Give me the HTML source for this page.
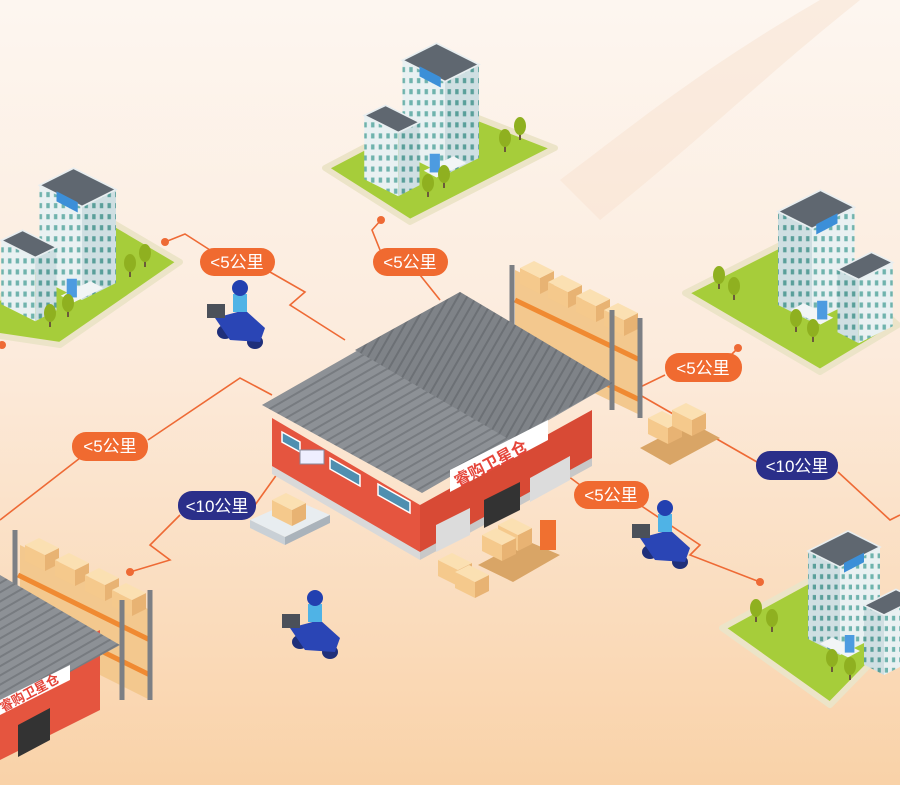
<!DOCTYPE html>
<html><head><meta charset="utf-8"><style>
html,body{margin:0;padding:0;width:900px;height:785px;overflow:hidden}
svg{display:block}
.lbl{font-family:"Liberation Sans","Noto Sans CJK SC",sans-serif;font-size:17px;fill:#fff}
</style></head><body>
<svg width="900" height="785" viewBox="0 0 900 785" xmlns="http://www.w3.org/2000/svg">
<defs>
<linearGradient id="bg" x1="0" y1="0" x2="0" y2="1">
<stop offset="0" stop-color="#fdf6f0"/><stop offset="0.45" stop-color="#fcebdc"/><stop offset="1" stop-color="#f9d2a8"/>
</linearGradient>
<pattern id="win" width="9" height="13" patternUnits="userSpaceOnUse"><rect width="9" height="13" fill="#e9f1f2"/><rect x="3" y="3" width="4" height="6" fill="#6fb3ad"/></pattern>
<pattern id="win2" width="9" height="13" patternUnits="userSpaceOnUse"><rect width="9" height="13" fill="#cfdfe2"/><rect x="3" y="3" width="4" height="6" fill="#5a9f9a"/></pattern>
<pattern id="roofp" width="8" height="8" patternUnits="userSpaceOnUse" patternTransform="rotate(-30)"><rect width="8" height="8" fill="#8d9196"/><rect width="8" height="2" fill="#777b80"/></pattern>
<pattern id="roofq" width="8" height="8" patternUnits="userSpaceOnUse" patternTransform="rotate(30)"><rect width="8" height="8" fill="#7f8388"/><rect width="2" height="8" fill="#6c7075"/></pattern>
<g id="hotel">
<polygon points="-50,-25 0,0 0,-110 -50,-135" fill="url(#win)"/>
<polygon points="0,0 40,-20 40,-130 0,-110" fill="url(#win2)"/>
<polygon points="-50,-135 0,-110 40,-130 -10,-155" fill="#5f6770" stroke="#e8eef0" stroke-width="2"/>
<polygon points="-30,-128 -5,-115 -5,-103 -30,-116" fill="#3c8fd8"/>
<polygon points="-95,5 -55,25 -55,-50 -95,-70" fill="url(#win)"/>
<polygon points="-55,25 -30,12 -30,-62 -55,-50" fill="url(#win2)"/>
<polygon points="-95,-70 -55,-50 -30,-62 -70,-82" fill="#5f6770" stroke="#e8eef0" stroke-width="2"/>
<polygon points="-25,-5 10,-22 25,-14 -10,3" fill="#f2f5f6"/>
<rect x="-18" y="-25" width="12" height="22" fill="#4d9be0"/>
</g>
<g id="tree"><rect x="-1" y="0" width="2" height="12" fill="#6b5a3a"/><ellipse cx="0" cy="-2" rx="6" ry="9" fill="#8fb020"/></g>
<g id="scooter">
<ellipse cx="0" cy="22" rx="8" ry="7" fill="#1f2f7a"/><ellipse cx="30" cy="32" rx="8" ry="7" fill="#1f2f7a"/>
<path d="M-10,8 L20,0 L40,18 L35,32 L5,30 Z" fill="#2a45b5"/>
<rect x="-18" y="-6" width="18" height="14" fill="#4b5059"/>
<rect x="8" y="-16" width="14" height="18" fill="#4fb3e6"/>
<circle cx="15" cy="-22" r="8" fill="#2240b0"/>
</g>
<g id="box"><polygon points="0,0 20,10 20,26 0,16" fill="#f5c98c"/><polygon points="20,10 34,3 34,19 20,26" fill="#e8b373"/><polygon points="0,0 14,-7 34,3 20,10" fill="#fbe0b2"/></g>
</defs>
<rect width="900" height="785" fill="url(#bg)"/>
<path d="M560,180 C640,120 700,70 820,0 L860,0 C760,80 700,140 600,220 Z" fill="#f7e2d0" opacity="0.5"/>

<g>
<polygon points="325,168 445,105 555,148 410,222" fill="#a6cd3a" stroke="#ece4c8" stroke-width="6" stroke-linejoin="round"/>
<polygon points="-40,330 100,215 180,262 60,345" fill="#a6cd3a" stroke="#ece4c8" stroke-width="6" stroke-linejoin="round"/>
<polygon points="685,293 800,235 898,325 820,372" fill="#a6cd3a" stroke="#ece4c8" stroke-width="6" stroke-linejoin="round"/>
<polygon points="722,628 810,580 905,628 830,705" fill="#a6cd3a" stroke="#ece4c8" stroke-width="6" stroke-linejoin="round"/>
</g>
<use href="#hotel" transform="translate(445,175) scale(0.85)"/>
<use href="#hotel" transform="translate(82,300) scale(0.85)"/>
<use href="#hotel" transform="translate(812,322) scale(-0.85,0.85)"/>
<use href="#hotel" transform="translate(840,655) scale(-0.8,0.8)"/>
<use href="#tree" x="505" y="140"/><use href="#tree" x="520" y="128"/><use href="#tree" x="428" y="185"/><use href="#tree" x="444" y="176"/>
<use href="#tree" x="130" y="265"/><use href="#tree" x="145" y="255"/><use href="#tree" x="50" y="315"/><use href="#tree" x="68" y="305"/>
<use href="#tree" x="719" y="277"/><use href="#tree" x="734" y="288"/><use href="#tree" x="796" y="320"/><use href="#tree" x="813" y="330"/>
<use href="#tree" x="756" y="610"/><use href="#tree" x="772" y="620"/><use href="#tree" x="832" y="660"/><use href="#tree" x="850" y="668"/>

<g fill="none" stroke="#ee6a35" stroke-width="1.6">
<path d="M165,242 L185,234 L210,250"/><path d="M270,272 L305,292 L290,305 L345,340"/>
<path d="M381,220 L372,230 L380,250"/><path d="M420,275 L440,300"/>
<path d="M738,348 L730,356"/><path d="M665,375 L630,392"/>
<path d="M640,395 L757,462"/><path d="M838,472 L890,520 L900,515"/>
<path d="M560,470 L580,485"/><path d="M640,505 L700,545 L690,555 L760,582"/>
<path d="M0,520 L80,458"/><path d="M148,440 L240,378 L272,395"/>
<path d="M255,505 L280,470"/><path d="M180,515 L150,545 L170,560 L130,572"/>
</g>
<g fill="#ee6a35"><circle cx="165" cy="242" r="4"/><circle cx="381" cy="220" r="4"/><circle cx="738" cy="348" r="4"/><circle cx="760" cy="582" r="4"/><circle cx="130" cy="572" r="4"/><circle cx="2" cy="345" r="4"/></g>

<g>
<polygon points="515,270 640,330 640,415 515,355" fill="#f3c88e"/>
<use href="#box" x="520" y="268"/><use href="#box" x="548" y="282"/><use href="#box" x="576" y="296"/><use href="#box" x="604" y="310"/>
<path d="M515,300 L640,360 M515,340 L640,400" stroke="#f08a32" stroke-width="5"/>
<path d="M512,265 L512,350 M640,318 L640,418 M612,310 L612,410" stroke="#7c7f84" stroke-width="5"/>
</g>

<g>
<polygon points="272,418 420,505 420,558 272,470" fill="#e5553f"/>
<polygon points="420,505 592,410 592,462 420,558" fill="#d84a35"/>
<polygon points="272,466 420,552 420,560 272,474" fill="#d9d9d9"/>
<polygon points="420,552 592,458 592,466 420,560" fill="#c8c8c8"/>
<polygon points="262,405 460,292 613,383 422,493" fill="url(#roofp)"/>
<polygon points="460,292 613,383 510,440 355,350" fill="url(#roofq)"/>
<g fill="#4f8fb0" stroke="#fff" stroke-width="1.5">
<polygon points="282,432 300,442 300,452 282,442"/><polygon points="330,458 360,475 360,486 330,469"/><polygon points="378,484 410,502 410,513 378,495"/>
</g>
<polygon points="450,470 548,420 548,440 450,492" fill="#fff"/>
<text x="0" y="0" class="lbl" style="fill:#e5453a;font-weight:bold;font-size:16px" transform="translate(458,487) rotate(-28)">睿购卫星仓</text>
<polygon points="484,500 520,482 520,510 484,528" fill="#333"/>
<polygon points="530,478 570,456 570,480 530,502" fill="#dcdcdc"/>
<polygon points="436,525 470,508 470,535 436,552" fill="#dcdcdc"/>
</g>
<g><polygon points="250,520 295,500 330,515 285,537" fill="#e8edf0"/><polygon points="250,520 285,537 285,545 250,528" fill="#c9d0d6"/><polygon points="285,537 330,515 330,523 285,545" fill="#aab3bb"/>
<use href="#box" x="272" y="500"/><rect x="300" y="450" width="24" height="14" fill="#eef" stroke="#889"/></g>
<g><polygon points="478,565 525,540 560,555 513,582" fill="#d9a566"/><use href="#box" x="498" y="525"/><use href="#box" x="482" y="535"/>
<rect x="540" y="520" width="16" height="30" fill="#f07030"/>
<use href="#box" x="438" y="560"/><use href="#box" x="455" y="572"/>
<polygon points="640,448 690,422 720,438 670,465" fill="#d9a566"/><use href="#box" x="648" y="418"/><use href="#box" x="672" y="410"/></g>
<use href="#scooter" x="225" y="310"/>
<use href="#scooter" x="650" y="530"/>
<use href="#scooter" x="300" y="620"/>

<g>
<polygon points="20,545 150,610 150,700 20,635" fill="#f3c88e"/>
<use href="#box" x="25" y="545"/><use href="#box" x="55" y="560"/><use href="#box" x="85" y="575"/><use href="#box" x="112" y="590"/>
<path d="M18,575 L150,640 M18,610 L150,675" stroke="#f08a32" stroke-width="5"/>
<path d="M15,530 L15,590 M150,590 L150,700 M122,600 L122,700" stroke="#7c7f84" stroke-width="5"/>
<polygon points="0,680 100,630 100,710 0,760" fill="#e5553f"/>
<polygon points="0,575 120,645 0,710" fill="url(#roofp)"/>
<polygon points="0,700 70,665 70,680 0,715" fill="#fff"/>
<text class="lbl" style="fill:#e5453a;font-weight:bold;font-size:13px" transform="translate(3,712) rotate(-28)">睿购卫星仓</text>
<polygon points="18,725 50,708 50,740 18,757" fill="#333"/>
</g>

<g>
<rect x="200" y="248" width="75" height="28" rx="14" fill="#f06a30"/><text x="237" y="268" class="lbl" text-anchor="middle">&lt;5公里</text>
<rect x="373" y="248" width="75" height="28" rx="14" fill="#f06a30"/><text x="410" y="268" class="lbl" text-anchor="middle">&lt;5公里</text>
<rect x="665" y="353" width="77" height="29" rx="14" fill="#f06a30"/><text x="703" y="374" class="lbl" text-anchor="middle">&lt;5公里</text>
<rect x="72" y="432" width="76" height="29" rx="14" fill="#f06a30"/><text x="110" y="452" class="lbl" text-anchor="middle">&lt;5公里</text>
<rect x="574" y="481" width="75" height="28" rx="14" fill="#f06a30"/><text x="611" y="501" class="lbl" text-anchor="middle">&lt;5公里</text>
<rect x="756" y="451" width="82" height="29" rx="14" fill="#2b2f8a"/><text x="797" y="472" class="lbl" text-anchor="middle">&lt;10公里</text>
<rect x="178" y="491" width="78" height="29" rx="14" fill="#2b2f8a"/><text x="217" y="512" class="lbl" text-anchor="middle">&lt;10公里</text>
</g>
</svg>
</body></html>
